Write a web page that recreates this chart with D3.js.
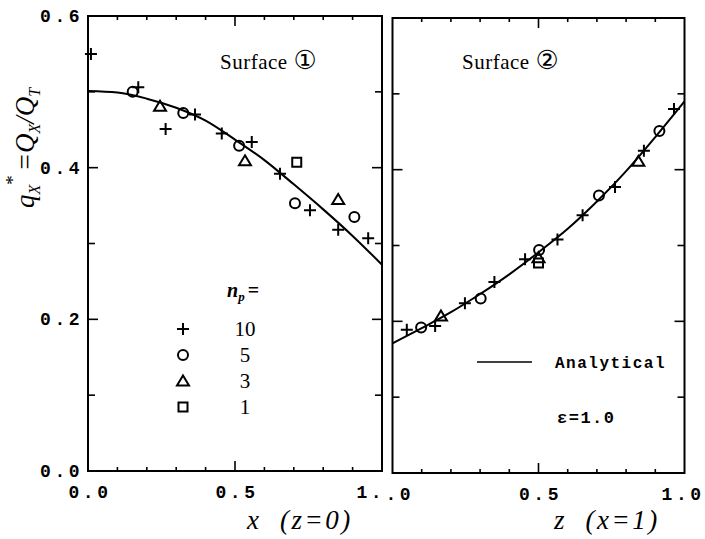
<!DOCTYPE html>
<html><head><meta charset="utf-8">
<script src="https://cdn.jsdelivr.net/npm/d3@7"></script>
<style>
body{margin:0;background:#fff;}
svg{display:block;}
.tick-lab{font-family:"Liberation Mono",monospace;font-weight:bold;font-size:18px;letter-spacing:3.5px;fill:#000;}
</style>
</head><body>
<svg id="chart" width="705" height="539"></svg>
<script>
// ---- data ----
const yTicks = [0.0, 0.2, 0.4, 0.6];
const yTickLabels = ["0.0", "0.2", "0.4", "0.6"];
const leftXTicks = [0.0, 0.5, 1.0];
const leftXTickLabels = ["0.0", "0.5", "1."];
const rightXTicks = [0.0, 0.5, 1.0];
const rightXTickLabels = [".0", "0.5", "1.0"];
const legendLabels = ["10", "5", "3", "1"];
const legendSymbols = ["plus", "circle", "triangle", "square"];

// Surface 1 (x, z=0)
const s1Curve = [[0,0.501],[0.1,0.499],[0.2,0.491],[0.3,0.479],[0.4,0.462],[0.5,0.437],[0.6,0.410],[0.7,0.378],[0.8,0.345],[0.9,0.310],[1.0,0.272]];
const s1Plus = [[0.01,0.55],[0.171,0.506],[0.264,0.451],[0.364,0.470],[0.455,0.445],[0.557,0.434],[0.653,0.392],[0.755,0.344],[0.851,0.318],[0.953,0.307]];
const s1Circle = [[0.152,0.500],[0.324,0.472],[0.514,0.429],[0.704,0.353],[0.906,0.335]];
const s1Triangle = [[0.245,0.481],[0.534,0.409],[0.851,0.358]];
const s1Square = [[0.710,0.407]];

// Surface 2 (z, x=1)
const s2Curve = [[0,0.171],[0.1,0.191],[0.2,0.212],[0.3,0.236],[0.4,0.262],[0.5,0.291],[0.6,0.322],[0.7,0.358],[0.8,0.398],[0.9,0.443],[1.0,0.490]];
const s2Plus = [[0.049,0.189],[0.146,0.194],[0.248,0.224],[0.349,0.252],[0.454,0.282],[0.565,0.308],[0.651,0.340],[0.762,0.377],[0.861,0.425],[0.964,0.480]];
const s2Circle = [[0.098,0.192],[0.302,0.230],[0.502,0.294],[0.707,0.366],[0.914,0.451]];
const s2Triangle = [[0.166,0.207],[0.500,0.284],[0.842,0.411]];
const s2Square = [[0.500,0.277]];

// ---- drawing ----
const svg = d3.select("#chart");

function symbolPath(type){
  if(type==="plus") return "M-6,0H6M0,-6V6";
  if(type==="circle") return "M5,0A5,5 0 1,1 -5,0A5,5 0 1,1 5,0Z";
  if(type==="triangle") return "M0,-5.5L6,4.5L-6,4.5Z";
  if(type==="square") return "M-4.5,-4.5H4.5V4.5H-4.5Z";
}

function panel(cfg){
  const x = d3.scaleLinear().domain([0,1]).range([cfg.x0, cfg.x1]);
  const y = d3.scaleLinear().domain([0,0.6]).range([cfg.y0, cfg.y1]);
  const g = svg.append("g");
  g.append("rect").attr("x",cfg.x0).attr("y",cfg.y1).attr("width",cfg.x1-cfg.x0).attr("height",cfg.y0-cfg.y1)
    .attr("fill","none").attr("stroke","#000").attr("stroke-width",2);
  const xt = d3.range(1,10).map(i=>i/10);
  xt.forEach(v=>{
    const L = Math.abs(v-0.5)<1e-9 ? 10 : 4;
    g.append("line").attr("x1",x(v)).attr("x2",x(v)).attr("y1",y(0)).attr("y2",y(0)-L).attr("stroke","#000").attr("stroke-width",1.6);
    g.append("line").attr("x1",x(v)).attr("x2",x(v)).attr("y1",y(0.6)).attr("y2",y(0.6)+L).attr("stroke","#000").attr("stroke-width",1.6);
  });
  const yt = d3.range(1,6).map(i=>i/10);
  yt.forEach(v=>{
    const L = (Math.round(v*10)%2===0) ? 10 : 7;
    g.append("line").attr("x1",x(0)).attr("x2",x(0)+L).attr("y1",y(v)).attr("y2",y(v)).attr("stroke","#000").attr("stroke-width",1.6);
    g.append("line").attr("x1",x(1)).attr("x2",x(1)-L).attr("y1",y(v)).attr("y2",y(v)).attr("stroke","#000").attr("stroke-width",1.6);
  });
  cfg.xTicks.forEach((v,i)=>{
    let anchor="middle", dx=2;
    const lab = cfg.xLabels[i];
    if(lab==="1."){anchor="end";dx=3;}
    if(lab===".0"){anchor="start";dx=-7;}
    if(cfg.lastEnd && i===cfg.xTicks.length-1){anchor="end";dx=20;}
    g.append("text").attr("class","tick-lab").attr("x",x(v)+dx).attr("y",y(0)+27)
      .attr("text-anchor",anchor).text(lab);
  });
  const line = d3.line().x(d=>x(d[0])).y(d=>y(d[1])).curve(d3.curveMonotoneX);
  g.append("path").datum(cfg.curve).attr("d",line).attr("fill","none").attr("stroke","#000").attr("stroke-width",2);
  const sets = [["plus",cfg.plus],["circle",cfg.circle],["triangle",cfg.triangle],["square",cfg.square]];
  sets.forEach(([t,data])=>{
    g.selectAll(null).data(data).enter().append("path")
      .attr("d",symbolPath(t))
      .attr("transform",d=>`translate(${x(d[0])},${y(d[1])})`)
      .attr("fill","none").attr("stroke","#000").attr("stroke-width",2);
  });
  return {x,y,g};
}

const P1 = panel({x0:88,x1:382,y0:471,y1:16,curve:s1Curve,plus:s1Plus,circle:s1Circle,triangle:s1Triangle,square:s1Square,
  xTicks:leftXTicks,xLabels:leftXTickLabels});
const P2 = panel({x0:392.5,x1:684.5,y0:473,y1:18,curve:s2Curve,plus:s2Plus,circle:s2Circle,triangle:s2Triangle,square:s2Square,
  xTicks:rightXTicks,xLabels:rightXTickLabels,lastEnd:true});

yTicks.forEach((v,i)=>{
  svg.append("text").attr("class","tick-lab").attr("x",P1.x(0)-5).attr("y",P1.y(v)+6)
    .attr("text-anchor","end").text(yTickLabels[i]);
});

const serif = '"Liberation Serif","DejaVu Serif",serif';
svg.append("text").attr("x",220).attr("y",69).attr("font-family",serif).attr("font-size",21).attr("letter-spacing",0.5)
  .text("Surface ").append("tspan").attr("font-family",'"DejaVu Sans","Noto Sans CJK SC",sans-serif').attr("font-size",26).text("①");
svg.append("text").attr("x",462).attr("y",69).attr("font-family",serif).attr("font-size",21).attr("letter-spacing",0.5)
  .text("Surface ").append("tspan").attr("font-family",'"DejaVu Sans","Noto Sans CJK SC",sans-serif').attr("font-size",26).text("②");

const np = svg.append("text").attr("x",227).attr("y",297).attr("font-family",serif).attr("font-size",20).attr("font-weight","bold");
np.append("tspan").attr("font-style","italic").text("n");
np.append("tspan").attr("font-style","italic").attr("font-size",13).attr("dy",4).text("p");
np.append("tspan").attr("dy",-4).attr("dx",3).text("=");
const legY = [329,355,381,407];
legendLabels.forEach((lab,i)=>{
  svg.append("path").attr("d",symbolPath(legendSymbols[i])).attr("transform",`translate(183,${legY[i]})`)
    .attr("fill","none").attr("stroke","#000").attr("stroke-width",2);
  svg.append("text").attr("x",245).attr("y",legY[i]+7).attr("text-anchor","middle")
    .attr("font-family",serif).attr("font-size",21).text(lab);
});

svg.append("line").attr("x1",477).attr("x2",532).attr("y1",362).attr("y2",362).attr("stroke","#000").attr("stroke-width",1.6);
svg.append("text").attr("class","tick-lab").attr("x",555).attr("y",368).attr("style","font-size:16px;letter-spacing:1.5px").text("Analytical");
svg.append("text").attr("class","tick-lab").attr("x",557).attr("y",423).attr("style","font-size:17px;letter-spacing:1.5px").text("ε=1.0");

const xt1 = svg.append("text").attr("x",247).attr("y",529).attr("font-family",serif).attr("font-style","italic").attr("font-size",27).attr("letter-spacing",2.5);
xt1.attr("xml:space","preserve").text("x  (z=0)");
const xt2 = svg.append("text").attr("x",554).attr("y",529).attr("font-family",serif).attr("font-style","italic").attr("font-size",27).attr("letter-spacing",2.5);
xt2.attr("xml:space","preserve").text("z  (x=1)");

const yl = svg.append("text").attr("transform","translate(34,148) rotate(-90)").attr("text-anchor","middle")
  .attr("font-family",serif).attr("font-style","italic").attr("font-size",27);
yl.append("tspan").text("q");
yl.append("tspan").attr("font-size",16).attr("dy",6).text("X");
yl.append("tspan").attr("font-size",19).attr("dy",-21).attr("dx",-1).text("*");
yl.append("tspan").attr("dy",15).attr("dx",5).text("=Q");
yl.append("tspan").attr("font-size",16).attr("dy",6).text("X");
yl.append("tspan").attr("dy",-6).text("/Q");
yl.append("tspan").attr("font-size",16).attr("dy",6).text("T");
</script>
</body></html>
